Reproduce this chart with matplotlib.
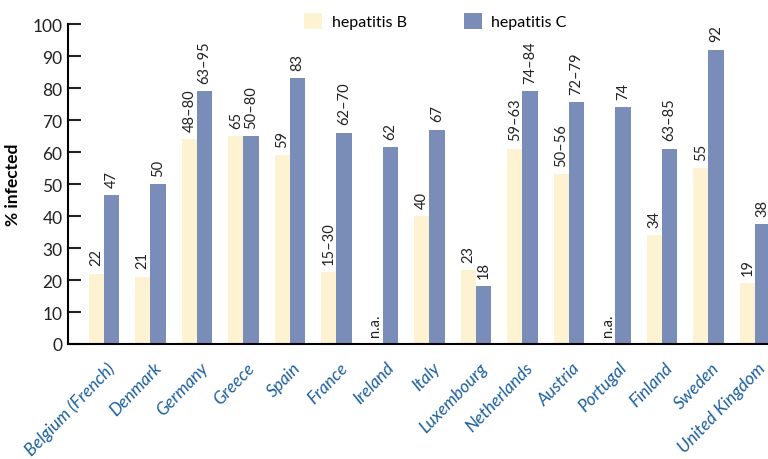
import matplotlib
matplotlib.use("Agg")
import matplotlib.pyplot as plt
import numpy as np

countries = ["Belgium (French)", "Denmark", "Germany", "Greece", "Spain", "France",
             "Ireland", "Italy", "Luxembourg", "Netherlands", "Austria", "Portugal",
             "Finland", "Sweden", "United Kingdom"]
# None = not available
hep_b = [22, 21, 64, 65, 59, 22.5, None, 40, 23, 61, 53, None, 34, 55, 19]
hep_c = [46.5, 50, 79, 65, 83, 66, 61.5, 67, 18, 79, 75.5, 74, 61, 92, 37.5]
hep_b_labels = ["22", "21", "48\u201380", "65", "59", "15\u201330", "n.a.", "40", "23",
                "59\u201363", "50\u201356", "n.a.", "34", "55", "19"]
hep_c_labels = ["47", "50", "63\u201395", "50\u201380", "83", "62\u201370", "62", "67", "18",
                "74\u201384", "72\u201379", "74", "63\u201385", "92", "38"]

color_b = "#FDF3D2"
color_c = "#7A8DB8"
label_blue = "#1C5F9E"

plt.rcParams['font.family'] = ['Lato', 'DejaVu Sans']

fig = plt.figure(figsize=(7.68, 4.6), dpi=100)
ax = fig.add_axes([68 / 768, 1 - 345 / 460, 700 / 768, 320 / 460])

x = np.arange(len(countries))
w = 0.33
b_vals = [v if v is not None else 0 for v in hep_b]
bars_b = ax.bar(x - w / 2, b_vals, w, color=color_b, label="hepatitis B")
bars_c = ax.bar(x + w / 2, hep_c, w, color=color_c, label="hepatitis C")

# value labels above bars
for bar, txt in zip(bars_b, hep_b_labels):
    ax.annotate(txt, (bar.get_x() + bar.get_width() / 2, bar.get_height()),
                xytext=(0, 6), textcoords="offset points", rotation=90,
                ha="center", va="bottom", fontsize=10.5, color="#222222")
for bar, txt in zip(bars_c, hep_c_labels):
    ax.annotate(txt, (bar.get_x() + bar.get_width() / 2, bar.get_height()),
                xytext=(0, 6), textcoords="offset points", rotation=90,
                ha="center", va="bottom", fontsize=10.5, color="#222222")

ax.set_xlim(-0.774, 14.28)
ax.set_ylim(0, 100)
ax.set_yticks(range(0, 101, 10))
ax.tick_params(axis="y", direction="in", length=9, width=1.5, labelsize=12.5,
               colors="#222222", pad=4)
ax.set_xticks(x + 0.05)
ax.set_xticklabels(countries, rotation=46, ha="right", rotation_mode="anchor",
                   fontsize=12.5, style="italic", color=label_blue)
ax.tick_params(axis="x", length=0, pad=11)
for s in ["top", "right"]:
    ax.spines[s].set_visible(False)
ax.spines["left"].set_linewidth(1.5)
ax.spines["bottom"].set_linewidth(1.5)
ax.set_ylabel("% infected", fontsize=12.5, fontweight="bold", labelpad=8)

fig.legend(loc="upper left", bbox_to_anchor=(290 / 768, 1.0), ncol=2, frameon=False,
           handlelength=1.1, handleheight=1.1, columnspacing=3.6, handletextpad=0.6,
           fontsize=11.5)

fig.savefig("out.png", dpi=100)
